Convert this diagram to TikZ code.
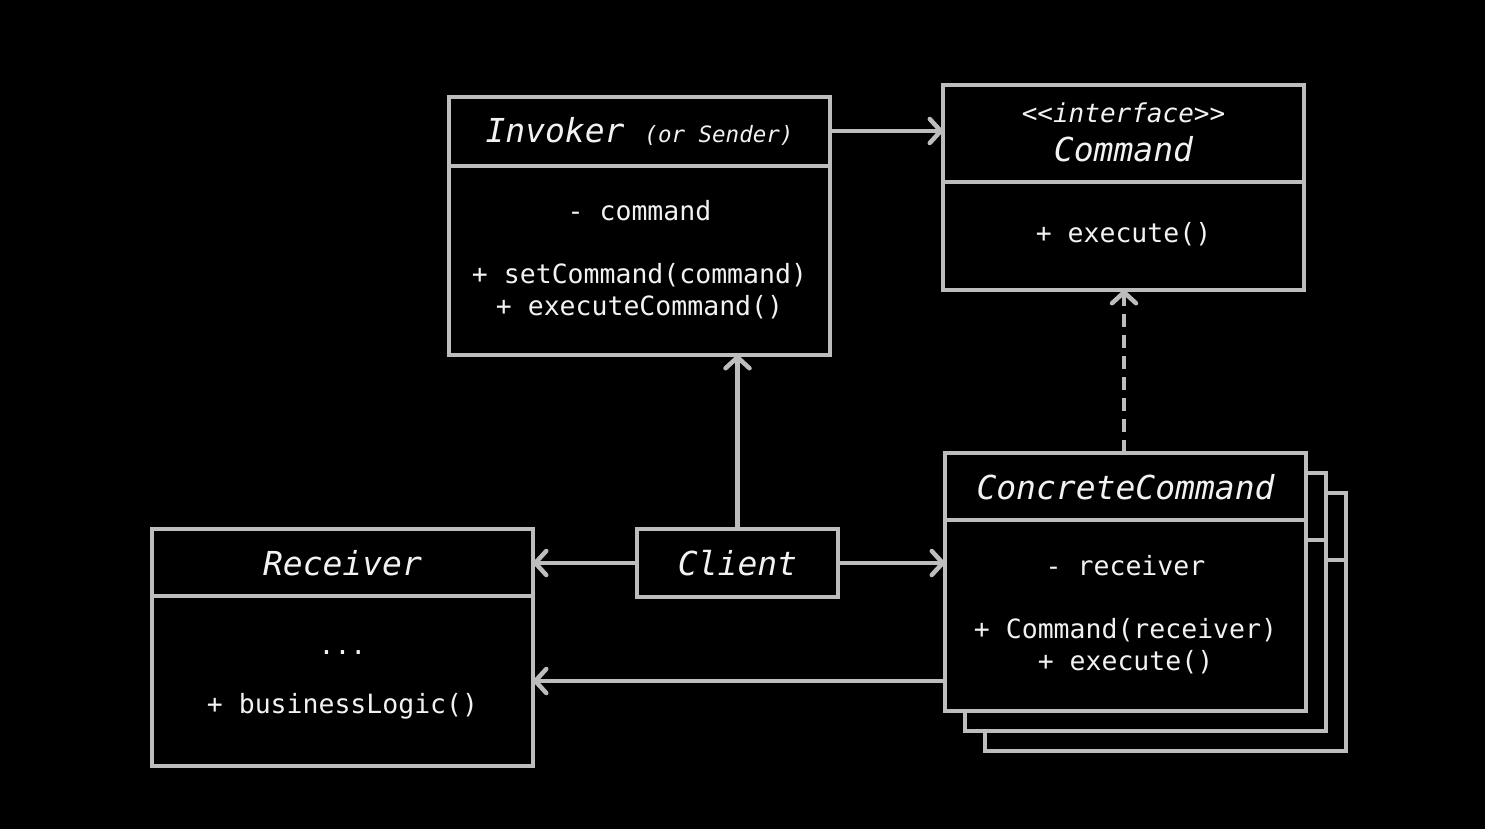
\documentclass[tikz,border=0pt]{standalone}
\usepackage{fontspec}
\setmonofont{DejaVu Sans Mono}
\usetikzlibrary{arrows.meta,calc}
\definecolor{linegray}{HTML}{BDBDBD}
\definecolor{txt}{HTML}{F2F2F2}
\begin{document}
\begin{tikzpicture}[x=1pt,y=-1pt,
  box/.style={draw=linegray,line width=4.5pt,fill=black,rectangle,inner sep=0pt,outer sep=0pt},
  divider/.style={draw=linegray,line width=4.5pt},
  body/.style={text=txt,font=\ttfamily\fontsize{26.5}{30}\selectfont,inner sep=0pt},
  title/.style={text=txt,font=\ttfamily\itshape\fontsize{33}{38}\selectfont,inner sep=0pt},
  arr/.style={draw=linegray,line width=4.5pt,-{Straight Barb[length=11pt,width=24pt,line width=4.5pt,round]}},
  dasharr/.style={arr,dash pattern=on 13pt off 8pt}]
\fill[black] (0,0) rectangle (1485,829);
\useasboundingbox (0,0) rectangle (1485,829);

% Invoker
\node[box,minimum width=381pt,minimum height=258pt] (inv) at (639.5,226) {};
\draw[divider] (inv.west |- 0,166) -- (inv.east |- 0,166);
\node[title,anchor=base] (invt) at (639.5,143) {Invoker \fontsize{22.5}{26}\selectfont(or Sender)};
\node[body] (inv1) at (639.5,211) {- command};
\node[body] (inv2) at (639.5,275) {+ setCommand(command)};
\node[body] (inv3) at (639.5,307) {+ executeCommand()};

% Command
\node[box,minimum width=361pt,minimum height=205pt] (cmd) at (1123.5,187.5) {};
\draw[divider] (cmd.west |- 0,182) -- (cmd.east |- 0,182);
\node[body,font=\ttfamily\itshape\fontsize{26}{30}\selectfont] (cmdi) at (1123.5,113) {<<interface>>};
\node[title] (cmdt) at (1123.5,149) {Command};
\node[body] (cmd1) at (1123.5,234) {+ execute()};

% ConcreteCommand stack
\node[box,minimum width=361pt,minimum height=258pt] (cc2) at (1165.5,622) {};
\draw[divider] (cc2.west |- 0,560) -- (cc2.east |- 0,560);
\node[box,minimum width=361pt,minimum height=258pt] (cc1) at (1145.5,602) {};
\draw[divider] (cc1.west |- 0,540) -- (cc1.east |- 0,540);
\node[box,minimum width=361pt,minimum height=258pt] (cc) at (1125.5,582) {};
\draw[divider] (cc.west |- 0,520) -- (cc.east |- 0,520);
\node[title] (cct) at (1125.5,487) {ConcreteCommand};
\node[body] (cc1t) at (1125.5,566) {- receiver};
\node[body] (cc2t) at (1125.5,630) {+ Command(receiver)};
\node[body] (cc3t) at (1125.5,662) {+ execute()};

% Receiver
\node[box,minimum width=381pt,minimum height=237pt] (rec) at (342.5,647.5) {};
\draw[divider] (rec.west |- 0,596) -- (rec.east |- 0,596);
\node[title] (rect) at (342.5,563) {Receiver};
\node[body,anchor=base] (rec1) at (342.5,654) {...};
\node[body] (rec2) at (342.5,706) {+ businessLogic()};

% Client
\node[box,minimum width=201pt,minimum height=68pt] (cl) at (737.5,563) {};
\node[title] (clt) at (737.5,563) {Client};

% connectors
\coordinate (ia) at (0,131);
\coordinate (ccr) at (0,681);
\coordinate (dx) at (1124,0);
\draw[arr] (inv.east |- ia) -- (cmd.west |- ia);
\draw[arr] (cl.north) -- (cl.north |- inv.south);
\draw[arr] (cl.west) -- (rec.east |- cl.west);
\draw[arr] (cl.east) -- (cc.west |- cl.east);
\draw[arr] (cc.west |- ccr) -- (rec.east |- ccr);
\draw[dasharr] (dx |- cc.north) -- (dx |- cmd.south);
\end{tikzpicture}
\end{document}
